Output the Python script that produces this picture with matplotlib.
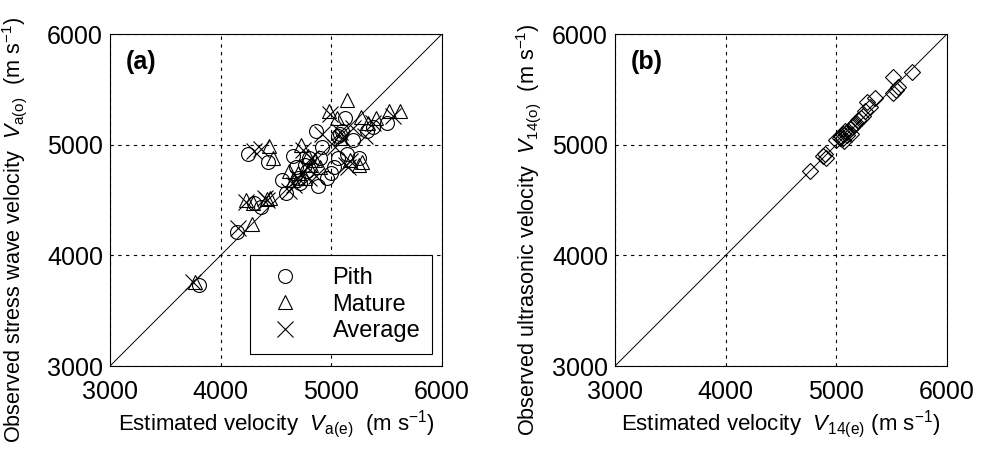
import numpy as np
import matplotlib
matplotlib.use('Agg')
import matplotlib.pyplot as plt

plt.rcParams['font.family'] = 'Liberation Sans'
plt.rcParams['mathtext.fontset'] = 'custom'
plt.rcParams['mathtext.rm'] = 'Liberation Sans'
plt.rcParams['mathtext.it'] = 'Liberation Sans:italic'
plt.rcParams['mathtext.bf'] = 'Liberation Sans:bold'

# (a) stress wave velocity, estimated vs observed
pith_x = [3800, 4150, 4245, 4300, 4360, 4430, 4550, 4590, 4650, 4680, 4700, 4720, 4780,
          4860, 4880, 4920, 4960, 5000, 5060, 5080, 5100, 5060, 5120, 5140, 5200, 5250,
          5320, 5380, 5500, 4800, 4760, 4900, 5020]
pith_y = [3730, 4210, 4920, 4470, 4440, 4840, 4680, 4560, 4900, 4800, 4700, 4650, 4760,
          5120, 4630, 4980, 4700, 4740, 5080, 5100, 5120, 4880, 5240, 4920, 5040, 4880,
          5120, 5160, 5200, 4880, 4820, 4880, 4800]

mature_x = [3770, 4280, 4230, 4290, 4440, 4420, 4450, 4620, 4700, 4730, 4760, 4790, 4820,
            4850, 4980, 5050, 5140, 5170, 5250, 5280, 5270, 5330, 5400, 5520, 5620, 4900,
            5080, 4650, 4470]
mature_y = [3760, 4280, 4500, 4470, 4990, 4510, 4520, 4760, 4740, 5000, 4700, 4900, 4820,
            4860, 5300, 5240, 5400, 4860, 4820, 4840, 5250, 5200, 5240, 5300, 5300, 4800,
            5060, 4680, 4880]

avg_x = [3750, 4160, 4230, 4300, 4360, 4420, 4660, 4700, 4740, 4780, 4820, 4860, 4920,
         4990, 5080, 5100, 5130, 5150, 5170, 5200, 5300, 5380, 5560, 4800, 5030, 4620, 4400]
avg_y = [3760, 4250, 4480, 4940, 4960, 4500, 4640, 4700, 4950, 4800, 4880, 4720, 5100,
         5280, 5110, 5060, 4820, 4800, 4850, 5150, 5080, 5200, 5260, 4700, 4980, 4580, 4520]

# (b) ultrasonic velocity, estimated vs observed
us_x = [4760, 4880, 4910, 4900, 5000, 5030, 5040, 5060, 5080, 5100, 5120, 5140, 5160, 5180,
        5200, 5220, 5240, 5260, 5300, 5280, 5350, 5510, 5560, 5510, 5540, 5680, 5050, 5100,
        5070, 5130]
us_y = [4760, 4900, 4880, 4920, 5040, 5060, 5080, 5100, 5120, 5110, 5140, 5160, 5180, 5200,
        5220, 5240, 5260, 5300, 5340, 5390, 5420, 5610, 5520, 5470, 5490, 5660, 5050, 5090,
        5030, 5100]

lim = [3000, 6000]
ticks = [3000, 4000, 5000, 6000]

fig = plt.figure(figsize=(9.86, 4.55), dpi=100)
ax1 = fig.add_axes([110 / 986, 89 / 455, 332 / 986, 332 / 455])
ax2 = fig.add_axes([615 / 986, 89 / 455, 332 / 986, 332 / 455])

mk = dict(linestyle='none', markerfacecolor='none', markeredgecolor='black',
          markeredgewidth=0.8)
ax1.plot(pith_x, pith_y, marker='o', markersize=10, label='Pith', **mk)
ax1.plot(mature_x, mature_y, marker='^', markersize=10, label='Mature', **mk)
ax1.plot(avg_x, avg_y, marker='x', markersize=11, label='Average', **mk)
ax2.plot(us_x, us_y, marker='D', markersize=8, **mk)

for ax in (ax1, ax2):
    ax.plot(lim, lim, color='black', linewidth=0.7)
    ax.set_xlim(lim)
    ax.set_ylim(lim)
    ax.set_xticks(ticks)
    ax.set_yticks(ticks)
    ax.grid(True, linestyle=(0, (3, 4)), color='black', linewidth=0.8)
    ax.tick_params(direction='in', length=0, labelsize=18)
    ax.tick_params(axis='x', pad=10)
    ax.tick_params(axis='y', pad=5)
    for s in ax.spines.values():
        s.set_linewidth(0.8)

ax1.set_xlabel(r'Estimated velocity  $V_{\mathrm{a(e)}}$  (m s$^{-1}$)', fontsize=16)
ax1.set_ylabel(r'Observed stress wave velocity  $V_{\mathrm{a(o)}}$  (m s$^{-1}$)', fontsize=15.6)
ax2.set_xlabel(r'Estimated velocity  $V_{\mathrm{14(e)}}$ (m s$^{-1}$)', fontsize=16)
ax2.set_ylabel(r'Observed ultrasonic velocity  $V_{\mathrm{14(o)}}$  (m s$^{-1}$)', fontsize=15.6)
ax1.xaxis.set_label_coords(0.5, -0.125)
ax2.xaxis.set_label_coords(0.5, -0.125)
ax1.yaxis.set_label_coords(-0.245, 0.41)
ax2.yaxis.set_label_coords(-0.218, 0.41)

ax1.text(0.048, 0.915, '(a)', transform=ax1.transAxes, fontsize=18, fontweight='bold', va='center')
ax2.text(0.048, 0.915, '(b)', transform=ax2.transAxes, fontsize=18, fontweight='bold', va='center')

leg = ax1.legend(loc='lower right', bbox_to_anchor=(0.97, 0.036), fontsize=17, frameon=True,
                 fancybox=False, framealpha=1, edgecolor='black', handletextpad=1.0,
                 borderpad=0.5, labelspacing=0.2, handlelength=2.0, borderaxespad=0)
leg.get_frame().set_linewidth(0.8)

fig.savefig('out.png', dpi=100)
